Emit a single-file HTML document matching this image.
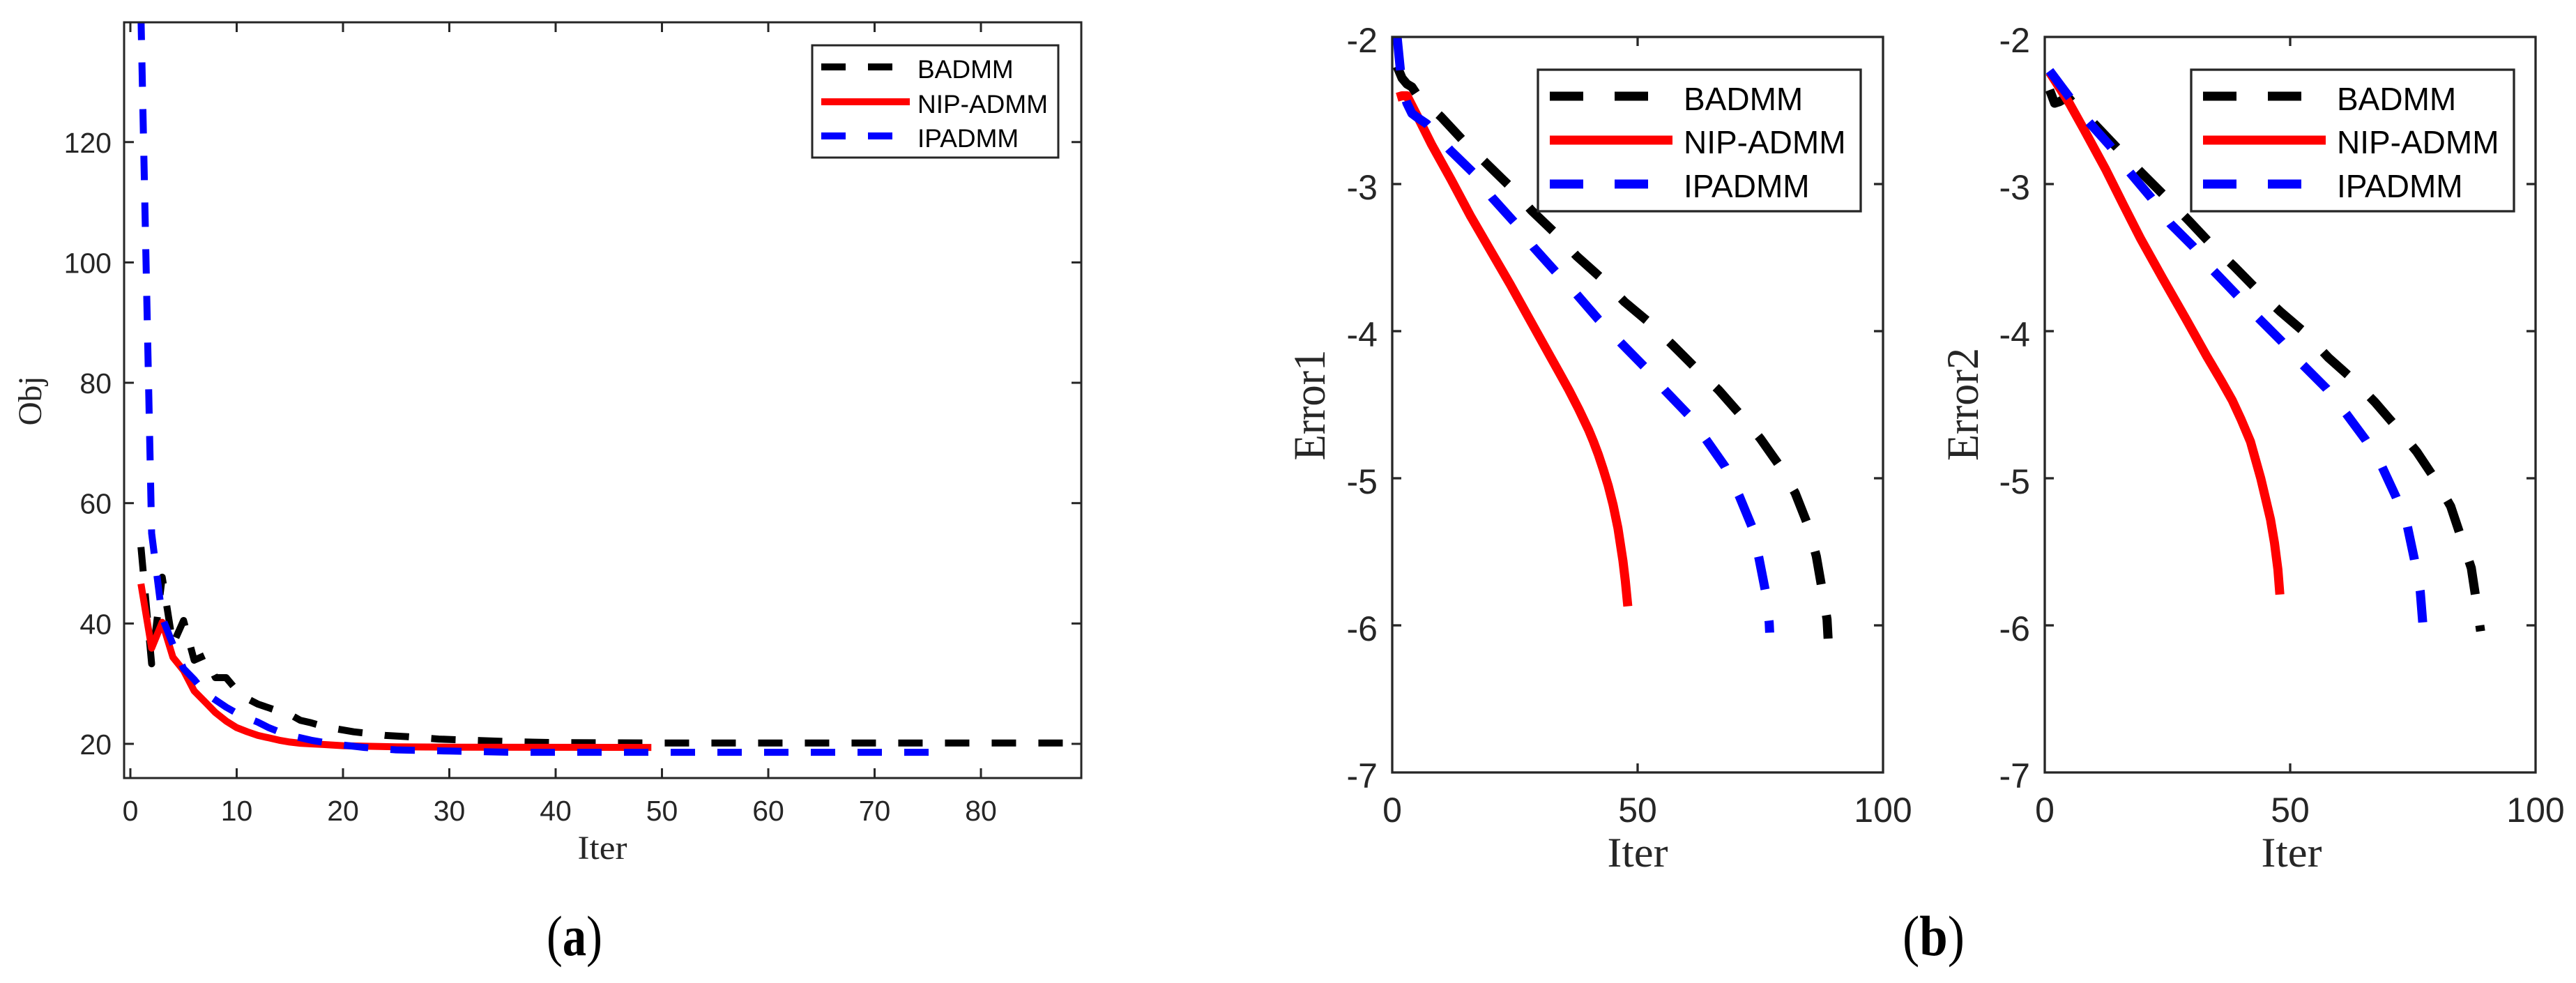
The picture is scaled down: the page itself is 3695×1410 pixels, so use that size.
<!DOCTYPE html>
<html lang="en">
<head>
<meta charset="utf-8">
<title>BADMM, NIP-ADMM and IPADMM convergence</title>
<style>
html,body{margin:0;padding:0;background:#fff;width:3695px;height:1410px;overflow:hidden}
svg{display:block}
text{font-family:"Liberation Sans",sans-serif;fill:#262626}
.serif{font-family:"Liberation Serif",serif}
.caption{font-family:"Liberation Serif",serif;font-size:82px;fill:#000}
.caption .letter{font-weight:bold}
</style>
</head>
<body>
<svg id="figure" width="3695" height="1410" viewBox="0 0 3695 1410" xmlns="http://www.w3.org/2000/svg">
<rect width="3695" height="1410" fill="#fff"/>
<text class="caption" x="784" y="1370" textLength="80" lengthAdjust="spacingAndGlyphs">(<tspan class="letter">a</tspan>)</text>
<text class="caption" x="2729" y="1370" textLength="89" lengthAdjust="spacingAndGlyphs">(<tspan class="letter">b</tspan>)</text>
</svg>
<script>
// ---- Shared series names ----
const seriesNames = ['BADMM', 'NIP-ADMM', 'IPADMM'];

// ---- Panel (a): objective ----
const objXTicks = [0, 10, 20, 30, 40, 50, 60, 70, 80];
const objYTicks = [20, 40, 60, 80, 100, 120];
const objBadmmIter = [1,2,3,4,5,6,7,8,9,10,11,12,13,14,15,16,17,18,19,20,21,22,24,26,29,32,36,40,50,89];
const objBadmmVal = [52.7,33.3,47.7,36.5,40.5,33.9,34.7,31,31,28.9,27.5,26.6,26,25.4,24.9,23.9,23.5,23,22.6,22.3,22,21.8,21.4,21.2,20.8,20.6,20.35,20.2,20.15,20.15];
const objNipIter = [1,2,3,4,5,6,7,8,9,10,11,12,13,14,15,16,17,18,20,25,30,49];
const objNipVal = [46.6,35.9,40.2,34.4,32.2,28.8,27,25.2,23.8,22.7,22,21.4,21,20.6,20.3,20.1,20,19.9,19.7,19.5,19.45,19.4];
const objIpIter = [1,2,3,4,5,6,7,8,9,10,11,12,13,14,15,16,17,19,22,25,30,36,77];
const objIpVal = [141,55,41,36.5,32.5,30.7,28.5,27.3,26.1,25.1,24.3,23.6,22.7,22,21.4,21,20.6,20,19.4,19,18.8,18.6,18.6];

// ---- Panel (b) left: Error1 ----
const errXTicks = [0, 50, 100];
const errYTicks = [-2, -3, -4, -5, -6, -7];
const err1BadmmIter = [1,2,3,4,5,10,14.6,19.2,24.1,28.4,33.4,37.6,42.6,47.3,52.3,57,61.8,66.5,71,75,78.8,82.1,84.7,86.4,87.5,88.6,88.8];
const err1BadmmVal = [-2.2,-2.28,-2.32,-2.34,-2.39,-2.545,-2.71,-2.86,-3.02,-3.18,-3.34,-3.49,-3.64,-3.8,-3.94,-4.09,-4.25,-4.4,-4.57,-4.73,-4.91,-5.1,-5.32,-5.53,-5.74,-5.96,-6.09];
const err1NipIter = [1,2,3,5,8,12,16,20,24,28,32,34,36,38,40,41,42,43,44,45,46,47,47.5,48];
const err1NipVal = [-2.41,-2.4,-2.4,-2.53,-2.73,-2.97,-3.22,-3.45,-3.68,-3.92,-4.16,-4.28,-4.4,-4.53,-4.67,-4.75,-4.84,-4.94,-5.05,-5.18,-5.34,-5.56,-5.7,-5.87];
const err1IpIter = [1,2,3,4,5,7,11.8,16.4,20.3,24.9,28.8,33.4,37.6,42,46.6,51.3,55.5,60.4,64,67.8,70.7,73.3,74.7,76,76.8,76.9];
const err1IpVal = [-2,-2.34,-2.45,-2.52,-2.545,-2.59,-2.77,-2.92,-3.09,-3.26,-3.43,-3.6,-3.75,-3.92,-4.08,-4.24,-4.4,-4.57,-4.74,-4.92,-5.12,-5.33,-5.54,-5.76,-5.98,-6.05];

// ---- Panel (b) right: Error2 ----
const err2BadmmIter = [1,2,3,4,5,6,8,9.5,15.5,19.9,24.7,29.4,33.9,38.6,43.3,48.1,53,57.8,62.5,67.2,71.6,75.8,79.4,82.7,84.8,86.9,87.9,88.8];
const err2BadmmVal = [-2.36,-2.45,-2.44,-2.42,-2.42,-2.46,-2.51,-2.57,-2.78,-2.93,-3.09,-3.25,-3.41,-3.56,-3.72,-3.87,-4.01,-4.18,-4.32,-4.48,-4.65,-4.82,-5,-5.19,-5.4,-5.61,-5.83,-6.04];
const err2NipIter = [1,5,8,12.4,16,19.5,24,28.8,33,36,38.2,40,41.9,43,44,45,46,46.8,47.5,47.9];
const err2NipVal = [-2.24,-2.45,-2.63,-2.9,-3.14,-3.37,-3.64,-3.92,-4.17,-4.34,-4.47,-4.6,-4.75,-4.88,-5,-5.14,-5.28,-5.44,-5.62,-5.79];
const err2IpIter = [1,4.8,9,13.3,17.3,21.6,25.6,30.1,34.4,39,43.5,48.3,52.6,57.4,61.4,65.4,68.7,71.6,73.9,75.3,76.5,77];
const err2IpVal = [-2.23,-2.4,-2.58,-2.74,-2.92,-3.09,-3.27,-3.42,-3.59,-3.75,-3.91,-4.07,-4.23,-4.39,-4.56,-4.74,-4.92,-5.13,-5.33,-5.55,-5.77,-5.98];

const SVG_NS = 'http://www.w3.org/2000/svg';
const figure = document.getElementById('figure');
const AXIS_COLOR = '#262626';
const seriesColors = ['#000000', '#ff0000', '#0000ff'];
let clipCount = 0;

function make(tag, attrs, parent) {
  const el = document.createElementNS(SVG_NS, tag);
  for (const k in attrs) el.setAttribute(k, attrs[k]);
  parent.appendChild(el);
  return el;
}

function drawPanel(p) {
  const group = make('g', {}, figure);
  
  

  const sx = v => p.left + (v - p.xMin) * (p.right - p.left) / (p.xMax - p.xMin);
  const sy = v => p.bottom - (v - p.yMin) * (p.bottom - p.top) / (p.yMax - p.yMin);

  clipCount += 1;
  const clipId = 'clip-' + clipCount;
  const clip = make('clipPath', { id: clipId }, group);
  make('rect', { x: p.left, y: p.top, width: p.right - p.left, height: p.bottom - p.top }, clip);

  // series
  const lines = make('g', { 'clip-path': 'url(#' + clipId + ')' }, group);
  p.series.forEach((s, idx) => {
    const pts = s.iter.map((it, j) => sx(it).toFixed(1) + ',' + sy(s.val[j]).toFixed(1)).join(' ');
    const line = make('polyline', {
      points: pts, fill: 'none', stroke: seriesColors[idx],
      'stroke-width': p.lineWidth, 'stroke-linejoin': 'round', 'stroke-linecap': 'butt'
    }, lines);
    if (idx !== 1) line.setAttribute('stroke-dasharray', p.dash);
    
    
  });

  // axes box
  const box = make('rect', {
    x: p.left, y: p.top, width: p.right - p.left, height: p.bottom - p.top,
    fill: 'none', stroke: AXIS_COLOR, 'stroke-width': p.axisWidth
  }, group);
  
  

  // x ticks
  p.xTicks.forEach(t => {
    const x = sx(t);
    if (t > p.xMin && t < p.xMax) {
      make('line', { x1: x, x2: x, y1: p.bottom, y2: p.bottom - p.tickLen, stroke: AXIS_COLOR, 'stroke-width': p.axisWidth }, group);
      make('line', { x1: x, x2: x, y1: p.top, y2: p.top + p.tickLen, stroke: AXIS_COLOR, 'stroke-width': p.axisWidth }, group);
    }
    const label = make('text', { x: x, y: p.xLabelY, 'font-size': p.tickFont, 'text-anchor': 'middle' }, group);
    label.textContent = String(t);
    
    
  });

  // y ticks
  p.yTicks.forEach(t => {
    const y = sy(t);
    if (t > p.yMin && t < p.yMax) {
      make('line', { x1: p.left, x2: p.left + p.tickLen, y1: y, y2: y, stroke: AXIS_COLOR, 'stroke-width': p.axisWidth }, group);
      make('line', { x1: p.right, x2: p.right - p.tickLen, y1: y, y2: y, stroke: AXIS_COLOR, 'stroke-width': p.axisWidth }, group);
    }
    const label = make('text', { x: p.yLabelX, y: y + p.yLabelDrop, 'font-size': p.tickFont, 'text-anchor': 'end' }, group);
    label.textContent = String(t);
    
    
  });

  // axis titles
  const xTitle = make('text', {
    class: 'serif', x: p.xTitleX, y: p.xTitleY, 'font-size': p.titleFont, 'text-anchor': 'middle',
    textLength: p.xTitleLen, lengthAdjust: 'spacingAndGlyphs'
  }, group);
  xTitle.textContent = 'Iter';
  
  

  const yTitle = make('text', {
    class: 'serif', x: 0, y: 0, 'font-size': p.yTitleFont, 'text-anchor': 'middle',
    textLength: p.yTitleLen, lengthAdjust: 'spacingAndGlyphs',
    transform: 'translate(' + p.yTitleX + ',' + p.yTitleY + ') rotate(-90)'
  }, group);
  yTitle.textContent = p.yTitle;
  
  

  // legend
  const lg = p.legend;
  const legend = make('g', {}, group);
  
  
  make('rect', {
    x: lg.x, y: lg.y, width: lg.w, height: lg.h, fill: '#fff',
    stroke: AXIS_COLOR, 'stroke-width': p.axisWidth
  }, legend);
  seriesNames.forEach((name, idx) => {
    const sample = make('line', {
      x1: lg.lineX, x2: lg.lineX + lg.lineLen, y1: lg.rowY[idx], y2: lg.rowY[idx],
      stroke: seriesColors[idx], 'stroke-width': p.lineWidth
    }, legend);
    if (idx !== 1) sample.setAttribute('stroke-dasharray', p.dash);
    
    
    const entry = make('text', { x: lg.textX, y: lg.textY[idx], 'font-size': lg.font, style: 'fill:#000' }, legend);
    entry.textContent = name;
    
    
  });
}

drawPanel({
  name: 'objective-panel', left: 178, right: 1551, top: 32, bottom: 1116,
  xMin: -0.59, xMax: 89.44, yMin: 14.32, yMax: 139.9,
  xTicks: objXTicks, yTicks: objYTicks, tickLen: 14, tickFont: 41, axisWidth: 3,
  xLabelY: 1177, yLabelX: 160, yLabelDrop: 15, lineWidth: 10, dash: '35 32',
  series: [
    { iter: objBadmmIter, val: objBadmmVal },
    { iter: objNipIter, val: objNipVal },
    { iter: objIpIter, val: objIpVal }
  ],
  titleFont: 48, xTitleX: 864, xTitleY: 1232, xTitleLen: 71,
  yTitle: 'Obj', yTitleFont: 48, yTitleLen: 71, yTitleX: 59, yTitleY: 575,
  legend: { x: 1165, y: 65, w: 353, h: 161, lineX: 1178, lineLen: 127, rowY: [96, 146, 195],
            textX: 1316, textY: [112, 162, 211], font: 37 }
});

drawPanel({
  name: 'error1-panel', left: 1997, right: 2701, top: 53, bottom: 1108,
  xMin: 0, xMax: 100, yMin: -7, yMax: -2,
  xTicks: errXTicks, yTicks: errYTicks, tickLen: 13, tickFont: 50, axisWidth: 3.3,
  xLabelY: 1179, yLabelX: 1976, yLabelDrop: 22, lineWidth: 13, dash: '48 45',
  series: [
    { iter: err1BadmmIter, val: err1BadmmVal },
    { iter: err1NipIter, val: err1NipVal },
    { iter: err1IpIter, val: err1IpVal }
  ],
  titleFont: 60, xTitleX: 2349, xTitleY: 1243, xTitleLen: 87,
  yTitle: 'Error1', yTitleFont: 65, yTitleLen: 159, yTitleX: 1900, yTitleY: 581,
  legend: { x: 2206, y: 100, w: 463, h: 203, lineX: 2223, lineLen: 176, rowY: [138, 201, 264],
            textX: 2415, textY: [158, 220, 283], font: 46 }
});

drawPanel({
  name: 'error2-panel', left: 2933, right: 3637, top: 53, bottom: 1108,
  xMin: 0, xMax: 100, yMin: -7, yMax: -2,
  xTicks: errXTicks, yTicks: errYTicks, tickLen: 13, tickFont: 50, axisWidth: 3.3,
  xLabelY: 1179, yLabelX: 2912, yLabelDrop: 22, lineWidth: 13, dash: '48 45',
  series: [
    { iter: err2BadmmIter, val: err2BadmmVal },
    { iter: err2NipIter, val: err2NipVal },
    { iter: err2IpIter, val: err2IpVal }
  ],
  titleFont: 60, xTitleX: 3287, xTitleY: 1243, xTitleLen: 87,
  yTitle: 'Error2', yTitleFont: 65, yTitleLen: 162, yTitleX: 2837, yTitleY: 580,
  legend: { x: 3143, y: 100, w: 463, h: 203, lineX: 3160, lineLen: 176, rowY: [138, 201, 264],
            textX: 3352, textY: [158, 220, 283], font: 46 }
});
</script>
</body>
</html>
